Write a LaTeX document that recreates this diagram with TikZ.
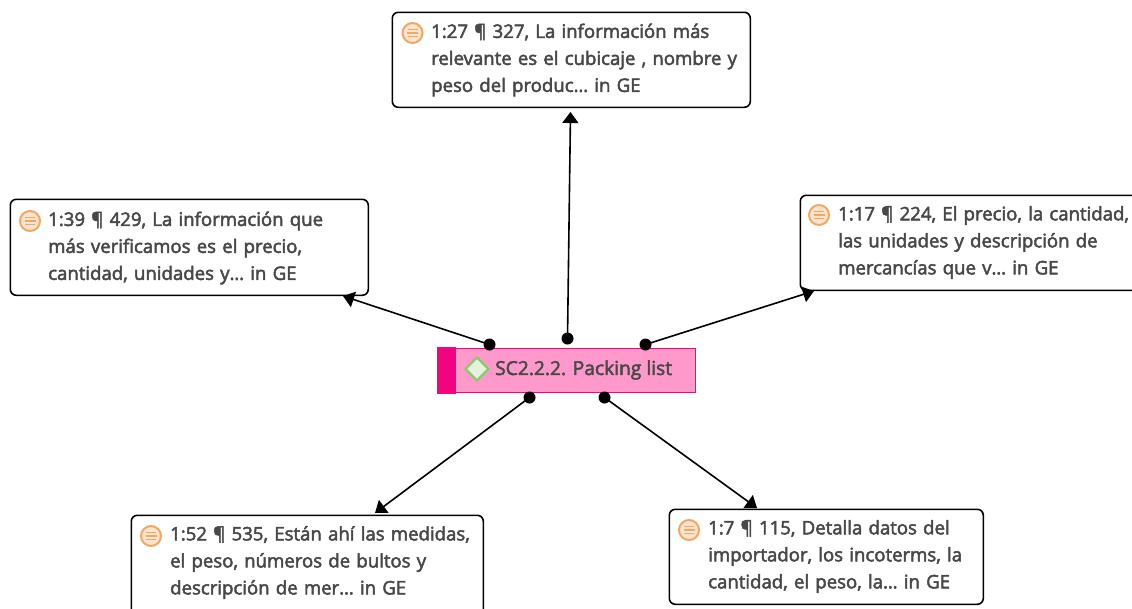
\documentclass[tikz,border=0pt]{standalone}
\usepackage{fontspec}
\setmainfont{Open Sans}[FakeBold=2.6]
\usetikzlibrary{arrows.meta,shapes.geometric}
\definecolor{ink}{HTML}{484848}
\definecolor{icoO}{HTML}{F0A868}
\definecolor{icoF}{HTML}{FBE3CC}
\definecolor{mag}{HTML}{F0047F}
\definecolor{pinkf}{HTML}{FF99CC}
\definecolor{dia}{HTML}{8CC870}
\definecolor{diaf}{HTML}{E4F2DC}
\tikzset{
  x=1pt,y=-1pt,
  card/.style={draw=black,line width=1.6pt,rounded corners=6pt,fill=white,inner sep=0pt,anchor=north west},
  cardtext/.style={text=ink,anchor=west,align=left,inner sep=0pt,text width=335pt,font=\fontsize{18.6}{27}\selectfont},
  qicon/.style={circle,draw=icoO,fill=icoF,line width=2pt,minimum size=20pt,inner sep=0pt},
  qline/.style={draw=icoO,line width=1.5pt},
  dotn/.style={circle,fill=black,draw=none,minimum size=12pt,inner sep=0pt},
  link/.style={draw=black,line width=1.6pt,-{Triangle[length=11pt,width=16pt]}},
}
\newcommand{\qglyph}[1]{%
  \draw[qline] ([xshift=-5pt,yshift=-3.5pt]#1.center) -- ([xshift=5pt,yshift=-3.5pt]#1.center);
  \draw[qline] ([xshift=-5.5pt]#1.center) -- ([xshift=5.5pt]#1.center);
  \draw[qline] ([xshift=-5pt,yshift=3.5pt]#1.center) -- ([xshift=5pt,yshift=3.5pt]#1.center);
}
\begin{document}
\begin{tikzpicture}
\useasboundingbox (0,0) rectangle (1132,608);
% cards
\node[card,minimum width=358pt,minimum height=95pt] (cTop) at (391.5,11.5) {};
\node[cardtext] (tTop) at (431,60) {1:27 ¶ 327, La información más\\relevante es el cubicaje , nombre y\\peso del produc… in GE};
\node[qicon] (iTop) at (412.5,33) {}; \qglyph{iTop}

\node[card,minimum width=358pt,minimum height=96pt] (cLeft) at (9.5,198.5) {};
\node[cardtext] (tLeft) at (48,248) {1:39 ¶ 429, La información que\\más verificamos es el precio,\\cantidad, unidades y… in GE};
\node[qicon] (iLeft) at (30,221) {}; \qglyph{iLeft}

\node[card,minimum width=345pt,minimum height=95pt] (cRight) at (799.5,194.5) {};
\node[cardtext] (tRight) at (838,242.5) {1:17 ¶ 224, El precio, la cantidad,\\las unidades y descripción de\\mercancías que v… in GE};
\node[qicon] (iRight) at (819,215) {}; \qglyph{iRight}

\node[card,minimum width=352pt,minimum height=100pt] (cBL) at (130.5,514.5) {};
\node[cardtext] (tBL) at (170,562.5) {1:52 ¶ 535, Están ahí las medidas,\\el peso, números de bultos y\\descripción de mer… in GE};
\node[qicon] (iBL) at (151,536) {}; \qglyph{iBL}

\node[card,minimum width=314pt,minimum height=95pt] (cBR) at (668.5,508.5) {};
\node[cardtext] (tBR) at (708,556.5) {1:7 ¶ 115, Detalla datos del\\importador, los incoterms, la\\cantidad, el peso, la… in GE};
\node[qicon] (iBR) at (689,530) {}; \qglyph{iBR}

% centre
\node[draw=mag,fill=pinkf,line width=1.6pt,minimum width=256.5pt,minimum height=44pt,inner sep=0pt,anchor=north west] (code) at (438,347.5) {};
\fill[mag] ([xshift=-0.8pt,yshift=0.8pt]code.north west) rectangle ([xshift=18pt,yshift=-0.8pt]code.south west);
\node[diamond,aspect=1,draw=dia,fill=diaf,line width=2.4pt,minimum size=24pt,inner sep=0pt] (dIcon) at (477,369) {};
\node[text=ink,anchor=west,inner sep=0pt,font=\fontsize{19.2}{27}\selectfont] (codeText) at (495,370) {SC2.2.2. Packing list};

% dots and arrow ends
\node[dotn] (dA) at (489.5,344.5) {};
\node[dotn] (dB) at (567.5,338.5) {};
\node[dotn] (dC) at (645.5,344.5) {};
\node[dotn] (dD) at (529.5,397.5) {};
\node[dotn] (dE) at (604.5,397.5) {};
\coordinate (eA) at (343,296);
\coordinate (eB) at (570.5,112);
\coordinate (eC) at (814,291);
\coordinate (eD) at (375,513);
\coordinate (eE) at (757,508);
\draw[link] (dA.center) -- (eA);
\draw[link] (dB.center) -- (eB);
\draw[link] (dC.center) -- (eC);
\draw[link] (dD.center) -- (eD);
\draw[link] (dE.center) -- (eE);
\end{tikzpicture}
\end{document}
